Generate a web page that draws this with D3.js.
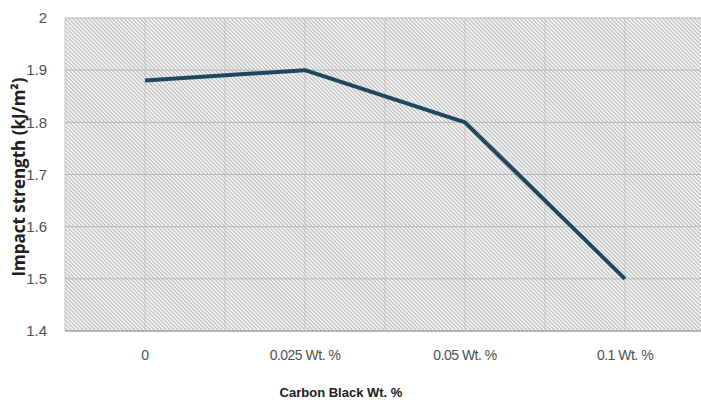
<!DOCTYPE html>
<html>
<head>
<meta charset="utf-8">
<script src="https://cdn.jsdelivr.net/npm/d3@7"></script>
<style>
  body { margin: 0; background: #fff; }
  text { font-family: "Liberation Sans", sans-serif; }
</style>
</head>
<body>
<div id="chart"></div>
<script>
var categories = ["0", "0.025 Wt. %", "0.05 Wt. %", "0.1 Wt. %"];
var impact = [1.88, 1.90, 1.80, 1.50];
var yTicks = [1.4, 1.5, 1.6, 1.7, 1.8, 1.9, 2];

var margin = {top: 18, right: -4, bottom: 77, left: 65},
    width = 701 - margin.left - margin.right,
    height = 408 - margin.top - margin.bottom;

var svg = d3.select("#chart")
  .append("svg")
    .attr("width", 701)
    .attr("height", 408)
    .style("display", "block")
    .style("overflow", "hidden");

// diagonal hatch fill like the original (top-left to bottom-right)
var pat = svg.append("defs").append("pattern")
    .attr("id", "hatch")
    .attr("patternUnits", "userSpaceOnUse")
    .attr("width", 2.8)
    .attr("height", 2.8)
    .attr("patternTransform", "rotate(45)");
pat.append("rect").attr("width", 2.8).attr("height", 2.8).attr("fill", "#fafafa");
pat.append("line")
    .attr("x1", 0).attr("y1", 0.6).attr("x2", 2.8).attr("y2", 0.6)
    .attr("stroke", "#b4b4b4")
    .attr("stroke-width", 1.1);

var g = svg.append("g")
    .attr("transform", "translate(" + margin.left + "," + margin.top + ")");

var x = d3.scaleBand()
  .domain(categories)
  .range([0, width])
  .padding(0);

var y = d3.scaleLinear()
  .domain([1.4, 2])
  .range([height, 0]);

g.append("rect")
    .attr("width", width)
    .attr("height", height)
    .attr("fill", "url(#hatch)");

// horizontal grid
g.selectAll(".hgrid")
  .data(yTicks)
  .enter()
  .append("line")
    .attr("x1", 0)
    .attr("x2", width)
    .attr("y1", function(d) { return y(d); })
    .attr("y2", function(d) { return y(d); })
    .attr("stroke", function(d) { return d == 1.4 ? "#a0a0a0" : "#b8b8b8"; })
    .attr("stroke-width", function(d) { return d == 1.4 ? 1.5 : 1; });

// vertical grid at band edges and centres
var vx = [];
categories.forEach(function(c) {
  vx.push(x(c));
  vx.push(x(c) + x.bandwidth() / 2);
});
g.selectAll(".vgrid")
  .data(vx)
  .enter()
  .append("line")
    .attr("x1", function(d) { return d; })
    .attr("x2", function(d) { return d; })
    .attr("y1", 0)
    .attr("y2", height)
    .attr("stroke", "#c4c4c4")
    .attr("stroke-width", 1);

// y axis labels
var yAxis = g.append("g")
  .call(d3.axisLeft(y).tickValues(yTicks).tickSize(0).tickPadding(18)
    .tickFormat(function(d) { return d; }));
yAxis.select(".domain").remove();
yAxis.selectAll("text")
    .style("font-family", "'Liberation Sans', sans-serif")
    .style("font-size", "15px")
    .attr("fill", "#505050");

// x axis labels
var xAxis = g.append("g")
  .attr("transform", "translate(0," + height + ")")
  .call(d3.axisBottom(x).tickSize(0).tickPadding(19));
xAxis.select(".domain").remove();
xAxis.selectAll("text")
    .style("font-family", "'Liberation Sans', sans-serif")
    .style("font-size", "14px")
    .style("letter-spacing", "-0.5px")
    .attr("fill", "#505050");

// the line
var line = d3.line()
  .x(function(d, i) { return x(categories[i]) + x.bandwidth() / 2; })
  .y(function(d) { return y(d); });

g.append("path")
    .datum(impact)
    .attr("fill", "none")
    .attr("stroke", "#1d4860")
    .attr("stroke-width", 4)
    .attr("stroke-linejoin", "round")
    .attr("d", line);

// axis titles
svg.append("text")
    .attr("x", 341)
    .attr("y", 397)
    .attr("text-anchor", "middle")
    .style("font-family", "'Liberation Sans', sans-serif")
    .style("font-size", "13px")
    .style("font-weight", "bold")
    .attr("fill", "#202020")
    .text("Carbon Black Wt. %");

svg.append("text")
    .attr("transform", "rotate(-90)")
    .attr("x", -177)
    .attr("y", 25)
    .attr("text-anchor", "middle")
    .style("font-family", "'Open Sans', sans-serif")
    .style("font-size", "17px")
    .style("font-weight", "bold")
    .attr("fill", "#202020")
    .text("Impact strength (kJ/m²)");
</script>
</body>
</html>
